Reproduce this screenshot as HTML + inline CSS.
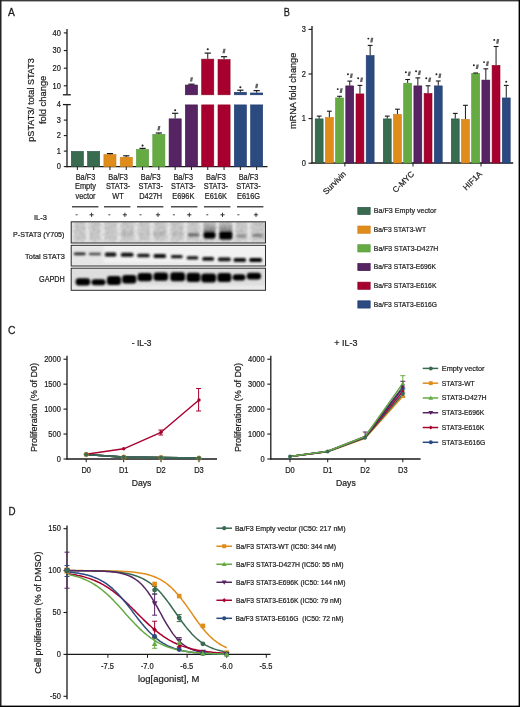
<!DOCTYPE html>
<html><head><meta charset="utf-8"><style>html,body{margin:0;padding:0;background:#fff;width:520px;height:707px;overflow:hidden;}#w{width:520px;height:707px;background:#fff;will-change:transform;}svg{display:block;}</style></head>
<body><div id="w"><svg width="520" height="707" viewBox="0 0 520 707" font-family='"Liberation Sans", sans-serif'><text transform="translate(8.00 15.85) scale(0.89 1)" font-size="11.5" text-anchor="start" fill="#1c1c1c" stroke="#1c1c1c" stroke-width="0.3">A</text>
<text transform="translate(283.70 16.40) scale(0.8 1)" font-size="11.5" text-anchor="start" fill="#1c1c1c" stroke="#1c1c1c" stroke-width="0.3">B</text>
<text transform="translate(7.90 333.80) scale(0.9 1)" font-size="11.5" text-anchor="start" fill="#1c1c1c" stroke="#1c1c1c" stroke-width="0.3">C</text>
<text transform="translate(8.40 514.50) scale(0.85 1)" font-size="11.5" text-anchor="start" fill="#1c1c1c" stroke="#1c1c1c" stroke-width="0.3">D</text>
<line x1="67.00" y1="29.00" x2="67.00" y2="94.80" stroke="#1a1a1a" stroke-width="1.3"/>
<line x1="67.00" y1="104.60" x2="67.00" y2="167.30" stroke="#1a1a1a" stroke-width="1.3"/>
<line x1="62.90" y1="94.80" x2="70.80" y2="94.80" stroke="#1a1a1a" stroke-width="1.3"/>
<line x1="62.90" y1="104.60" x2="70.80" y2="104.60" stroke="#1a1a1a" stroke-width="1.3"/>
<line x1="66.40" y1="166.70" x2="267.50" y2="166.70" stroke="#1a1a1a" stroke-width="1.3"/>
<line x1="63.80" y1="85.80" x2="67.00" y2="85.80" stroke="#1a1a1a" stroke-width="1.1"/>
<text transform="translate(60.90 88.55) scale(0.88 1)" font-size="8.5" text-anchor="end" fill="#1c1c1c" stroke="#1c1c1c" stroke-width="0.22">10</text>
<line x1="63.80" y1="68.17" x2="67.00" y2="68.17" stroke="#1a1a1a" stroke-width="1.1"/>
<text transform="translate(60.90 70.92) scale(0.88 1)" font-size="8.5" text-anchor="end" fill="#1c1c1c" stroke="#1c1c1c" stroke-width="0.22">20</text>
<line x1="63.80" y1="50.54" x2="67.00" y2="50.54" stroke="#1a1a1a" stroke-width="1.1"/>
<text transform="translate(60.90 53.29) scale(0.88 1)" font-size="8.5" text-anchor="end" fill="#1c1c1c" stroke="#1c1c1c" stroke-width="0.22">30</text>
<line x1="63.80" y1="32.91" x2="67.00" y2="32.91" stroke="#1a1a1a" stroke-width="1.1"/>
<text transform="translate(60.90 35.66) scale(0.88 1)" font-size="8.5" text-anchor="end" fill="#1c1c1c" stroke="#1c1c1c" stroke-width="0.22">40</text>
<line x1="63.80" y1="166.60" x2="67.00" y2="166.60" stroke="#1a1a1a" stroke-width="1.1"/>
<text transform="translate(60.90 169.35) scale(0.88 1)" font-size="8.5" text-anchor="end" fill="#1c1c1c" stroke="#1c1c1c" stroke-width="0.22">0</text>
<line x1="63.80" y1="151.10" x2="67.00" y2="151.10" stroke="#1a1a1a" stroke-width="1.1"/>
<text transform="translate(60.90 153.85) scale(0.88 1)" font-size="8.5" text-anchor="end" fill="#1c1c1c" stroke="#1c1c1c" stroke-width="0.22">1</text>
<line x1="63.80" y1="135.60" x2="67.00" y2="135.60" stroke="#1a1a1a" stroke-width="1.1"/>
<text transform="translate(60.90 138.35) scale(0.88 1)" font-size="8.5" text-anchor="end" fill="#1c1c1c" stroke="#1c1c1c" stroke-width="0.22">2</text>
<line x1="63.80" y1="120.10" x2="67.00" y2="120.10" stroke="#1a1a1a" stroke-width="1.1"/>
<text transform="translate(60.90 122.85) scale(0.88 1)" font-size="8.5" text-anchor="end" fill="#1c1c1c" stroke="#1c1c1c" stroke-width="0.22">3</text>
<text transform="translate(60.90 107.35) scale(0.88 1)" font-size="8.5" text-anchor="end" fill="#1c1c1c" stroke="#1c1c1c" stroke-width="0.22">4</text>
<rect x="71.30" y="151.40" width="12.10" height="15.30" fill="#386b50" stroke="#27523c" stroke-width="0.6"/>
<line x1="77.35" y1="166.70" x2="77.35" y2="170.00" stroke="#1a1a1a" stroke-width="1.0"/>
<rect x="87.60" y="151.40" width="12.10" height="15.30" fill="#386b50" stroke="#27523c" stroke-width="0.6"/>
<line x1="93.65" y1="166.70" x2="93.65" y2="170.00" stroke="#1a1a1a" stroke-width="1.0"/>
<rect x="103.90" y="154.66" width="12.10" height="12.04" fill="#e08c1a" stroke="#cc7d12" stroke-width="0.6"/>
<line x1="109.95" y1="153.60" x2="109.95" y2="154.35" stroke="#1a1a1a" stroke-width="1.0"/>
<line x1="106.85" y1="153.60" x2="113.05" y2="153.60" stroke="#1a1a1a" stroke-width="1.2"/>
<line x1="109.95" y1="166.70" x2="109.95" y2="170.00" stroke="#1a1a1a" stroke-width="1.0"/>
<rect x="120.20" y="157.29" width="12.10" height="9.41" fill="#e08c1a" stroke="#cc7d12" stroke-width="0.6"/>
<line x1="126.25" y1="155.80" x2="126.25" y2="156.99" stroke="#1a1a1a" stroke-width="1.0"/>
<line x1="123.15" y1="155.80" x2="129.35" y2="155.80" stroke="#1a1a1a" stroke-width="1.2"/>
<line x1="126.25" y1="166.70" x2="126.25" y2="170.00" stroke="#1a1a1a" stroke-width="1.0"/>
<rect x="136.50" y="149.54" width="12.10" height="17.16" fill="#66aa44" stroke="#529636" stroke-width="0.6"/>
<line x1="142.55" y1="148.40" x2="142.55" y2="149.24" stroke="#1a1a1a" stroke-width="1.0"/>
<line x1="139.45" y1="148.40" x2="145.65" y2="148.40" stroke="#1a1a1a" stroke-width="1.2"/>
<line x1="142.55" y1="166.70" x2="142.55" y2="170.00" stroke="#1a1a1a" stroke-width="1.0"/>
<rect x="152.80" y="134.35" width="12.10" height="32.35" fill="#66aa44" stroke="#529636" stroke-width="0.6"/>
<line x1="158.85" y1="133.00" x2="158.85" y2="134.05" stroke="#1a1a1a" stroke-width="1.0"/>
<line x1="155.75" y1="133.00" x2="161.95" y2="133.00" stroke="#1a1a1a" stroke-width="1.2"/>
<line x1="158.85" y1="166.70" x2="158.85" y2="170.00" stroke="#1a1a1a" stroke-width="1.0"/>
<rect x="169.10" y="118.85" width="12.10" height="47.85" fill="#562462" stroke="#3e1249" stroke-width="0.6"/>
<line x1="175.15" y1="113.30" x2="175.15" y2="118.55" stroke="#1a1a1a" stroke-width="1.0"/>
<line x1="172.05" y1="113.30" x2="178.25" y2="113.30" stroke="#1a1a1a" stroke-width="1.2"/>
<line x1="175.15" y1="166.70" x2="175.15" y2="170.00" stroke="#1a1a1a" stroke-width="1.0"/>
<rect x="185.40" y="104.90" width="12.10" height="61.80" fill="#562462" stroke="#3e1249" stroke-width="0.6"/>
<rect x="185.40" y="85.04" width="12.10" height="9.76" fill="#562462" stroke="#3e1249" stroke-width="0.6"/>
<line x1="191.45" y1="84.20" x2="191.45" y2="84.74" stroke="#1a1a1a" stroke-width="1.0"/>
<line x1="188.35" y1="84.20" x2="194.55" y2="84.20" stroke="#1a1a1a" stroke-width="1.2"/>
<line x1="191.45" y1="166.70" x2="191.45" y2="170.00" stroke="#1a1a1a" stroke-width="1.0"/>
<rect x="201.70" y="104.90" width="12.10" height="61.80" fill="#a8002e" stroke="#8e0026" stroke-width="0.6"/>
<rect x="201.70" y="59.13" width="12.10" height="35.67" fill="#a8002e" stroke="#8e0026" stroke-width="0.6"/>
<line x1="207.75" y1="53.10" x2="207.75" y2="58.83" stroke="#1a1a1a" stroke-width="1.0"/>
<line x1="204.65" y1="53.10" x2="210.85" y2="53.10" stroke="#1a1a1a" stroke-width="1.2"/>
<line x1="207.75" y1="166.70" x2="207.75" y2="170.00" stroke="#1a1a1a" stroke-width="1.0"/>
<rect x="218.00" y="104.90" width="12.10" height="61.80" fill="#a8002e" stroke="#8e0026" stroke-width="0.6"/>
<rect x="218.00" y="59.55" width="12.10" height="35.25" fill="#a8002e" stroke="#8e0026" stroke-width="0.6"/>
<line x1="224.05" y1="56.70" x2="224.05" y2="59.25" stroke="#1a1a1a" stroke-width="1.0"/>
<line x1="220.95" y1="56.70" x2="227.15" y2="56.70" stroke="#1a1a1a" stroke-width="1.2"/>
<line x1="224.05" y1="166.70" x2="224.05" y2="170.00" stroke="#1a1a1a" stroke-width="1.0"/>
<rect x="234.30" y="104.90" width="12.10" height="61.80" fill="#2a4a80" stroke="#1e3a6c" stroke-width="0.6"/>
<rect x="234.30" y="92.27" width="12.10" height="2.53" fill="#2a4a80" stroke="#1e3a6c" stroke-width="0.6"/>
<line x1="240.35" y1="90.20" x2="240.35" y2="91.97" stroke="#1a1a1a" stroke-width="1.0"/>
<line x1="237.25" y1="90.20" x2="243.45" y2="90.20" stroke="#1a1a1a" stroke-width="1.2"/>
<line x1="240.35" y1="166.70" x2="240.35" y2="170.00" stroke="#1a1a1a" stroke-width="1.0"/>
<rect x="250.60" y="104.90" width="12.10" height="61.80" fill="#2a4a80" stroke="#1e3a6c" stroke-width="0.6"/>
<rect x="250.60" y="92.98" width="12.10" height="1.82" fill="#2a4a80" stroke="#1e3a6c" stroke-width="0.6"/>
<line x1="256.65" y1="90.60" x2="256.65" y2="92.68" stroke="#1a1a1a" stroke-width="1.0"/>
<line x1="253.55" y1="90.60" x2="259.75" y2="90.60" stroke="#1a1a1a" stroke-width="1.2"/>
<line x1="256.65" y1="166.70" x2="256.65" y2="170.00" stroke="#1a1a1a" stroke-width="1.0"/>
<circle cx="142.55" cy="145.60" r="1.05" fill="#1e1e1e"/>
<polygon points="158.15,126.10 160.45,126.10 159.55,130.50 157.25,130.50" fill="#3c3c3c" opacity="0.8" filter="url(#bl0)"/>
<circle cx="175.15" cy="110.30" r="1.05" fill="#1e1e1e"/>
<polygon points="190.75,77.20 193.05,77.20 192.15,81.60 189.85,81.60" fill="#3c3c3c" opacity="0.8" filter="url(#bl0)"/>
<circle cx="207.75" cy="49.20" r="1.05" fill="#1e1e1e"/>
<polygon points="223.35,48.80 225.65,48.80 224.75,53.20 222.45,53.20" fill="#3c3c3c" opacity="0.8" filter="url(#bl0)"/>
<circle cx="240.35" cy="87.20" r="1.05" fill="#1e1e1e"/>
<polygon points="255.95,83.80 258.25,83.80 257.35,88.20 255.05,88.20" fill="#3c3c3c" opacity="0.8" filter="url(#bl0)"/>
<text transform="translate(85.50 179.90) scale(0.86 1)" font-size="8.6" text-anchor="middle" fill="#1c1c1c" stroke="#1c1c1c" stroke-width="0.22">Ba/F3</text>
<text transform="translate(85.50 189.45) scale(0.86 1)" font-size="8.6" text-anchor="middle" fill="#1c1c1c" stroke="#1c1c1c" stroke-width="0.22">Empty</text>
<text transform="translate(85.50 199.00) scale(0.86 1)" font-size="8.6" text-anchor="middle" fill="#1c1c1c" stroke="#1c1c1c" stroke-width="0.22">vector</text>
<text transform="translate(118.10 179.90) scale(0.86 1)" font-size="8.6" text-anchor="middle" fill="#1c1c1c" stroke="#1c1c1c" stroke-width="0.22">Ba/F3</text>
<text transform="translate(118.10 189.45) scale(0.86 1)" font-size="8.6" text-anchor="middle" fill="#1c1c1c" stroke="#1c1c1c" stroke-width="0.22">STAT3-</text>
<text transform="translate(118.10 199.00) scale(0.86 1)" font-size="8.6" text-anchor="middle" fill="#1c1c1c" stroke="#1c1c1c" stroke-width="0.22">WT</text>
<text transform="translate(150.70 179.90) scale(0.86 1)" font-size="8.6" text-anchor="middle" fill="#1c1c1c" stroke="#1c1c1c" stroke-width="0.22">Ba/F3</text>
<text transform="translate(150.70 189.45) scale(0.86 1)" font-size="8.6" text-anchor="middle" fill="#1c1c1c" stroke="#1c1c1c" stroke-width="0.22">STAT3-</text>
<text transform="translate(150.70 199.00) scale(0.86 1)" font-size="8.6" text-anchor="middle" fill="#1c1c1c" stroke="#1c1c1c" stroke-width="0.22">D427H</text>
<text transform="translate(183.30 179.90) scale(0.86 1)" font-size="8.6" text-anchor="middle" fill="#1c1c1c" stroke="#1c1c1c" stroke-width="0.22">Ba/F3</text>
<text transform="translate(183.30 189.45) scale(0.86 1)" font-size="8.6" text-anchor="middle" fill="#1c1c1c" stroke="#1c1c1c" stroke-width="0.22">STAT3-</text>
<text transform="translate(183.30 199.00) scale(0.86 1)" font-size="8.6" text-anchor="middle" fill="#1c1c1c" stroke="#1c1c1c" stroke-width="0.22">E696K</text>
<text transform="translate(215.90 179.90) scale(0.86 1)" font-size="8.6" text-anchor="middle" fill="#1c1c1c" stroke="#1c1c1c" stroke-width="0.22">Ba/F3</text>
<text transform="translate(215.90 189.45) scale(0.86 1)" font-size="8.6" text-anchor="middle" fill="#1c1c1c" stroke="#1c1c1c" stroke-width="0.22">STAT3-</text>
<text transform="translate(215.90 199.00) scale(0.86 1)" font-size="8.6" text-anchor="middle" fill="#1c1c1c" stroke="#1c1c1c" stroke-width="0.22">E616K</text>
<text transform="translate(248.50 179.90) scale(0.86 1)" font-size="8.6" text-anchor="middle" fill="#1c1c1c" stroke="#1c1c1c" stroke-width="0.22">Ba/F3</text>
<text transform="translate(248.50 189.45) scale(0.86 1)" font-size="8.6" text-anchor="middle" fill="#1c1c1c" stroke="#1c1c1c" stroke-width="0.22">STAT3-</text>
<text transform="translate(248.50 199.00) scale(0.86 1)" font-size="8.6" text-anchor="middle" fill="#1c1c1c" stroke="#1c1c1c" stroke-width="0.22">E616G</text>
<text transform="translate(33.90 99.95) rotate(-90)" font-size="9.6" text-anchor="middle" fill="#1c1c1c" stroke="#1c1c1c" stroke-width="0.22" textLength="83.5" lengthAdjust="spacingAndGlyphs">pSTAT3/ total STAT3</text>
<text transform="translate(46.00 99.90) rotate(-90)" font-size="9.6" text-anchor="middle" fill="#1c1c1c" stroke="#1c1c1c" stroke-width="0.22" textLength="48.4" lengthAdjust="spacingAndGlyphs">fold change</text>
<text transform="translate(46.90 219.80) scale(0.95 1)" font-size="7.9" text-anchor="end" fill="#1c1c1c" stroke="#1c1c1c" stroke-width="0.22">IL-3</text>
<text transform="translate(64.40 237.10)" font-size="7.9" text-anchor="end" fill="#1c1c1c" stroke="#1c1c1c" stroke-width="0.22" textLength="51.3" lengthAdjust="spacingAndGlyphs">P-STAT3 (Y705)</text>
<text transform="translate(64.80 258.60)" font-size="8.1" text-anchor="end" fill="#1c1c1c" stroke="#1c1c1c" stroke-width="0.22" textLength="39.7" lengthAdjust="spacingAndGlyphs">Total STAT3</text>
<text transform="translate(64.80 281.70)" font-size="8.2" text-anchor="end" fill="#1c1c1c" stroke="#1c1c1c" stroke-width="0.22" textLength="25.8" lengthAdjust="spacingAndGlyphs">GAPDH</text>
<line x1="72.00" y1="206.80" x2="98.40" y2="206.80" stroke="#222" stroke-width="1.2"/>
<line x1="104.00" y1="206.80" x2="130.40" y2="206.80" stroke="#222" stroke-width="1.2"/>
<line x1="137.00" y1="206.80" x2="163.40" y2="206.80" stroke="#222" stroke-width="1.2"/>
<line x1="171.00" y1="206.80" x2="197.40" y2="206.80" stroke="#222" stroke-width="1.2"/>
<line x1="204.00" y1="206.80" x2="230.40" y2="206.80" stroke="#222" stroke-width="1.2"/>
<line x1="237.00" y1="206.80" x2="263.40" y2="206.80" stroke="#222" stroke-width="1.2"/>
<line x1="75.60" y1="214.80" x2="77.60" y2="214.80" stroke="#333" stroke-width="0.9"/>
<line x1="108.40" y1="214.80" x2="110.40" y2="214.80" stroke="#333" stroke-width="0.9"/>
<line x1="139.50" y1="214.80" x2="141.50" y2="214.80" stroke="#333" stroke-width="0.9"/>
<line x1="172.90" y1="214.80" x2="174.90" y2="214.80" stroke="#333" stroke-width="0.9"/>
<line x1="206.30" y1="214.80" x2="208.30" y2="214.80" stroke="#333" stroke-width="0.9"/>
<line x1="237.40" y1="214.80" x2="239.40" y2="214.80" stroke="#333" stroke-width="0.9"/>
<line x1="89.50" y1="214.80" x2="93.70" y2="214.80" stroke="#333" stroke-width="1.0"/>
<line x1="91.60" y1="212.70" x2="91.60" y2="216.90" stroke="#333" stroke-width="1.0"/>
<line x1="122.80" y1="214.80" x2="127.00" y2="214.80" stroke="#333" stroke-width="1.0"/>
<line x1="124.90" y1="212.70" x2="124.90" y2="216.90" stroke="#333" stroke-width="1.0"/>
<line x1="155.90" y1="214.80" x2="160.10" y2="214.80" stroke="#333" stroke-width="1.0"/>
<line x1="158.00" y1="212.70" x2="158.00" y2="216.90" stroke="#333" stroke-width="1.0"/>
<line x1="187.20" y1="214.80" x2="191.40" y2="214.80" stroke="#333" stroke-width="1.0"/>
<line x1="189.30" y1="212.70" x2="189.30" y2="216.90" stroke="#333" stroke-width="1.0"/>
<line x1="220.40" y1="214.80" x2="224.60" y2="214.80" stroke="#333" stroke-width="1.0"/>
<line x1="222.50" y1="212.70" x2="222.50" y2="216.90" stroke="#333" stroke-width="1.0"/>
<line x1="253.90" y1="214.80" x2="258.10" y2="214.80" stroke="#333" stroke-width="1.0"/>
<line x1="256.00" y1="212.70" x2="256.00" y2="216.90" stroke="#333" stroke-width="1.0"/>
<defs><filter id="bl0" x="-50%" y="-50%" width="200%" height="200%"><feGaussianBlur stdDeviation="0.35"/></filter><filter id="bl1" x="-20%" y="-50%" width="140%" height="200%"><feGaussianBlur stdDeviation="0.8"/></filter><filter id="bl2" x="-20%" y="-50%" width="140%" height="200%"><feGaussianBlur stdDeviation="1.4"/></filter><filter id="nz" x="0" y="0" width="100%" height="100%"><feTurbulence type="fractalNoise" baseFrequency="0.3" numOctaves="2" seed="3"/><feColorMatrix type="matrix" values="0 0 0 0 0  0 0 0 0 0  0 0 0 0 0  0 0 0 -0.9 0.55"/></filter><clipPath id="cb1"><rect x="71.2" y="221.8" width="194.3" height="21.2"/></clipPath><clipPath id="cb2"><rect x="71.2" y="245.3" width="194.3" height="20.7"/></clipPath><clipPath id="cb3"><rect x="71.2" y="268.2" width="194.3" height="22.1"/></clipPath></defs>
<g clip-path="url(#cb1)">
<rect x="71.20" y="221.80" width="194.30" height="21.20" fill="#c9c9c9"/>
<g filter="url(#bl1)">
<rect x="69.80" y="221.00" width="4.40" height="23.00" fill="#e4e4e4"/>
<rect x="85.30" y="221.00" width="4.40" height="23.00" fill="#e4e4e4"/>
<rect x="100.30" y="221.00" width="4.40" height="23.00" fill="#e4e4e4"/>
<rect x="116.80" y="221.00" width="4.40" height="23.00" fill="#e4e4e4"/>
<rect x="134.30" y="221.00" width="4.40" height="23.00" fill="#e4e4e4"/>
<rect x="149.80" y="221.00" width="4.40" height="23.00" fill="#e4e4e4"/>
<rect x="166.50" y="221.00" width="4.40" height="23.00" fill="#e4e4e4"/>
<rect x="183.40" y="221.00" width="4.40" height="23.00" fill="#e4e4e4"/>
<rect x="199.10" y="221.00" width="4.40" height="23.00" fill="#e4e4e4"/>
<rect x="215.20" y="221.00" width="4.40" height="23.00" fill="#e4e4e4"/>
<rect x="231.40" y="221.00" width="4.40" height="23.00" fill="#e4e4e4"/>
<rect x="247.10" y="221.00" width="4.40" height="23.00" fill="#e4e4e4"/>
<rect x="71.20" y="240.50" width="194.30" height="3.00" fill="#dedede"/>
</g><g filter="url(#bl1)">
<linearGradient id="sm" x1="0" y1="0" x2="0" y2="1"><stop offset="0" stop-color="#c4c4c4"/><stop offset="1" stop-color="#7a7a7a"/></linearGradient>
<rect x="204" y="222" width="11.5" height="11" rx="3" fill="url(#sm)"/><rect x="219.5" y="222" width="12.5" height="11" rx="3" fill="url(#sm)"/>
<rect x="120.5" y="231.5" width="12.5" height="4.5" rx="2" fill="#bcbcbc"/>
<rect x="153.0" y="231.5" width="12.5" height="4.5" rx="2" fill="#b8b8b8"/>
<rect x="137.0" y="232.0" width="12.0" height="3.5" rx="2" fill="#c8c8c8"/>
<rect x="171.9" y="231.8" width="10.8" height="3.8" rx="2" fill="#bdbdbd"/>
<rect x="187.6" y="233.2" width="11.7" height="3.4" rx="2" fill="#6e6e6e"/>
<rect x="203.6" y="231.4" width="11.8" height="7.0" rx="2" fill="#060606"/>
<rect x="219.3" y="231.0" width="13.0" height="8.6" rx="2" fill="#060606"/>
<rect x="236.2" y="234.6" width="10.2" height="2.9" rx="2" fill="#8e8e8e"/>
<rect x="252.3" y="233.9" width="10.7" height="2.9" rx="2" fill="#7c7c7c"/>
</g>
<rect x="71.2" y="221.8" width="194.3" height="21.2" filter="url(#nz)" opacity="0.16"/>
</g>
<g clip-path="url(#cb2)">
<rect x="71.20" y="245.30" width="194.30" height="20.70" fill="#f2f2f2"/>
<g filter="url(#bl2)">
<rect x="71.20" y="245.30" width="32.50" height="20.70" fill="#e6e6e6"/>
<rect x="71.20" y="263.00" width="194.30" height="3.00" fill="#e4e4e4"/>
</g><g filter="url(#bl1)">
<rect x="73.8" y="252.4" width="11.9" height="2.8" rx="1.5" fill="#262626"/>
<rect x="88.8" y="252.7" width="12.2" height="2.5" rx="1.5" fill="#444444"/>
<rect x="104.9" y="252.4" width="11.4" height="4.2" rx="1.5" fill="#080808"/>
<rect x="120.9" y="252.8" width="12.5" height="4.0" rx="1.5" fill="#0c0c0c"/>
<rect x="137.2" y="253.8" width="12.5" height="3.5" rx="1.5" fill="#141414"/>
<rect x="153.6" y="254.0" width="12.4" height="3.9" rx="1.5" fill="#0a0a0a"/>
<rect x="170.9" y="255.1" width="11.8" height="3.1" rx="1.5" fill="#151515"/>
<rect x="186.6" y="256.2" width="11.8" height="3.2" rx="1.5" fill="#121212"/>
<rect x="202.3" y="257.0" width="11.7" height="3.7" rx="1.5" fill="#0a0a0a"/>
<rect x="218.0" y="257.4" width="12.7" height="3.9" rx="1.5" fill="#080808"/>
<rect x="233.6" y="258.0" width="12.4" height="3.9" rx="1.5" fill="#080808"/>
<rect x="249.3" y="257.9" width="12.7" height="4.1" rx="1.5" fill="#050505"/>
</g></g>
<g clip-path="url(#cb3)">
<rect x="71.20" y="268.20" width="194.30" height="22.10" fill="#dedede"/>
<g filter="url(#bl2)">
<rect x="71.20" y="285.50" width="194.30" height="5.00" fill="#ececec"/>
</g><g filter="url(#bl1)">
<rect x="75.7" y="278.3" width="14.4" height="7.2" rx="3" fill="#030303"/>
<rect x="91.5" y="279.3" width="14.0" height="6.0" rx="3" fill="#030303"/>
<rect x="107.0" y="276.0" width="13.9" height="9.0" rx="3" fill="#030303"/>
<rect x="122.2" y="275.0" width="14.1" height="8.5" rx="3" fill="#030303"/>
<rect x="137.6" y="273.0" width="14.4" height="8.2" rx="3" fill="#030303"/>
<rect x="153.6" y="272.6" width="14.4" height="8.2" rx="3" fill="#030303"/>
<rect x="170.3" y="272.2" width="14.7" height="9.0" rx="3" fill="#030303"/>
<rect x="186.6" y="272.8" width="13.7" height="9.2" rx="3" fill="#030303"/>
<rect x="201.3" y="273.4" width="14.7" height="9.2" rx="3" fill="#030303"/>
<rect x="217.4" y="273.0" width="13.9" height="9.0" rx="3" fill="#030303"/>
<rect x="232.7" y="274.2" width="12.7" height="6.4" rx="3" fill="#030303"/>
<rect x="246.8" y="272.8" width="14.2" height="6.8" rx="3" fill="#030303"/>
</g></g>
<rect x="71.2" y="221.8" width="194.3" height="21.2" fill="none" stroke="#2a2a2a" stroke-width="1"/>
<rect x="71.2" y="245.3" width="194.3" height="20.7" fill="none" stroke="#2a2a2a" stroke-width="1"/>
<rect x="71.2" y="268.2" width="194.3" height="22.1" fill="none" stroke="#2a2a2a" stroke-width="1"/>
<line x1="312.00" y1="26.00" x2="312.00" y2="163.60" stroke="#1a1a1a" stroke-width="1.3"/>
<line x1="311.40" y1="163.00" x2="513.20" y2="163.00" stroke="#1a1a1a" stroke-width="1.3"/>
<line x1="308.50" y1="163.20" x2="312.00" y2="163.20" stroke="#1a1a1a" stroke-width="1.1"/>
<text transform="translate(306.00 165.95) scale(0.88 1)" font-size="8.5" text-anchor="end" fill="#1c1c1c" stroke="#1c1c1c" stroke-width="0.22">0</text>
<line x1="308.50" y1="118.60" x2="312.00" y2="118.60" stroke="#1a1a1a" stroke-width="1.1"/>
<text transform="translate(306.00 121.35) scale(0.88 1)" font-size="8.5" text-anchor="end" fill="#1c1c1c" stroke="#1c1c1c" stroke-width="0.22">1</text>
<line x1="308.50" y1="74.00" x2="312.00" y2="74.00" stroke="#1a1a1a" stroke-width="1.1"/>
<text transform="translate(306.00 76.75) scale(0.88 1)" font-size="8.5" text-anchor="end" fill="#1c1c1c" stroke="#1c1c1c" stroke-width="0.22">2</text>
<line x1="308.50" y1="29.40" x2="312.00" y2="29.40" stroke="#1a1a1a" stroke-width="1.1"/>
<text transform="translate(306.00 32.15) scale(0.88 1)" font-size="8.5" text-anchor="end" fill="#1c1c1c" stroke="#1c1c1c" stroke-width="0.22">3</text>
<rect x="315.20" y="118.90" width="7.90" height="44.10" fill="#386b50" stroke="#27523c" stroke-width="0.6"/>
<line x1="319.15" y1="116.10" x2="319.15" y2="118.60" stroke="#1a1a1a" stroke-width="1.0"/>
<line x1="316.75" y1="116.10" x2="321.55" y2="116.10" stroke="#1a1a1a" stroke-width="1.1"/>
<rect x="325.40" y="117.56" width="7.90" height="45.44" fill="#e08c1a" stroke="#cc7d12" stroke-width="0.6"/>
<line x1="329.35" y1="111.20" x2="329.35" y2="117.26" stroke="#1a1a1a" stroke-width="1.0"/>
<line x1="326.95" y1="111.20" x2="331.75" y2="111.20" stroke="#1a1a1a" stroke-width="1.1"/>
<rect x="335.60" y="97.94" width="7.90" height="65.06" fill="#66aa44" stroke="#529636" stroke-width="0.6"/>
<line x1="339.55" y1="96.30" x2="339.55" y2="97.64" stroke="#1a1a1a" stroke-width="1.0"/>
<line x1="337.15" y1="96.30" x2="341.95" y2="96.30" stroke="#1a1a1a" stroke-width="1.1"/>
<circle cx="337.75" cy="89.10" r="0.97" fill="#1e1e1e"/>
<polygon points="340.45,88.30 342.75,88.30 341.85,92.90 339.55,92.90" fill="#3c3c3c" opacity="0.8" filter="url(#bl0)"/>
<rect x="345.80" y="85.90" width="7.90" height="77.10" fill="#562462" stroke="#3e1249" stroke-width="0.6"/>
<line x1="349.75" y1="81.10" x2="349.75" y2="85.60" stroke="#1a1a1a" stroke-width="1.0"/>
<line x1="347.35" y1="81.10" x2="352.15" y2="81.10" stroke="#1a1a1a" stroke-width="1.1"/>
<circle cx="347.95" cy="74.30" r="0.97" fill="#1e1e1e"/>
<polygon points="350.65,73.50 352.95,73.50 352.05,78.10 349.75,78.10" fill="#3c3c3c" opacity="0.8" filter="url(#bl0)"/>
<rect x="356.00" y="93.92" width="7.90" height="69.08" fill="#a8002e" stroke="#8e0026" stroke-width="0.6"/>
<line x1="359.95" y1="85.40" x2="359.95" y2="93.62" stroke="#1a1a1a" stroke-width="1.0"/>
<line x1="357.55" y1="85.40" x2="362.35" y2="85.40" stroke="#1a1a1a" stroke-width="1.1"/>
<circle cx="358.15" cy="78.20" r="0.97" fill="#1e1e1e"/>
<polygon points="360.85,77.40 363.15,77.40 362.25,82.00 359.95,82.00" fill="#3c3c3c" opacity="0.8" filter="url(#bl0)"/>
<rect x="366.20" y="55.57" width="7.90" height="107.43" fill="#2a4a80" stroke="#1e3a6c" stroke-width="0.6"/>
<line x1="370.15" y1="45.40" x2="370.15" y2="55.27" stroke="#1a1a1a" stroke-width="1.0"/>
<line x1="367.75" y1="45.40" x2="372.55" y2="45.40" stroke="#1a1a1a" stroke-width="1.1"/>
<circle cx="368.35" cy="38.60" r="0.97" fill="#1e1e1e"/>
<polygon points="371.05,37.80 373.35,37.80 372.45,42.40 370.15,42.40" fill="#3c3c3c" opacity="0.8" filter="url(#bl0)"/>
<line x1="344.90" y1="163.00" x2="344.90" y2="166.50" stroke="#1a1a1a" stroke-width="1.0"/>
<rect x="383.30" y="118.90" width="7.90" height="44.10" fill="#386b50" stroke="#27523c" stroke-width="0.6"/>
<line x1="387.25" y1="116.10" x2="387.25" y2="118.60" stroke="#1a1a1a" stroke-width="1.0"/>
<line x1="384.85" y1="116.10" x2="389.65" y2="116.10" stroke="#1a1a1a" stroke-width="1.1"/>
<rect x="393.50" y="114.44" width="7.90" height="48.56" fill="#e08c1a" stroke="#cc7d12" stroke-width="0.6"/>
<line x1="397.45" y1="109.20" x2="397.45" y2="114.14" stroke="#1a1a1a" stroke-width="1.0"/>
<line x1="395.05" y1="109.20" x2="399.85" y2="109.20" stroke="#1a1a1a" stroke-width="1.1"/>
<rect x="403.70" y="83.22" width="7.90" height="79.78" fill="#66aa44" stroke="#529636" stroke-width="0.6"/>
<line x1="407.65" y1="79.50" x2="407.65" y2="82.92" stroke="#1a1a1a" stroke-width="1.0"/>
<line x1="405.25" y1="79.50" x2="410.05" y2="79.50" stroke="#1a1a1a" stroke-width="1.1"/>
<circle cx="405.85" cy="72.30" r="0.97" fill="#1e1e1e"/>
<polygon points="408.55,71.50 410.85,71.50 409.95,76.10 407.65,76.10" fill="#3c3c3c" opacity="0.8" filter="url(#bl0)"/>
<rect x="413.90" y="85.90" width="7.90" height="77.10" fill="#562462" stroke="#3e1249" stroke-width="0.6"/>
<line x1="417.85" y1="77.90" x2="417.85" y2="85.60" stroke="#1a1a1a" stroke-width="1.0"/>
<line x1="415.45" y1="77.90" x2="420.25" y2="77.90" stroke="#1a1a1a" stroke-width="1.1"/>
<circle cx="416.05" cy="71.30" r="0.97" fill="#1e1e1e"/>
<polygon points="418.75,70.50 421.05,70.50 420.15,75.10 417.85,75.10" fill="#3c3c3c" opacity="0.8" filter="url(#bl0)"/>
<rect x="424.10" y="93.48" width="7.90" height="69.52" fill="#a8002e" stroke="#8e0026" stroke-width="0.6"/>
<line x1="428.05" y1="85.80" x2="428.05" y2="93.18" stroke="#1a1a1a" stroke-width="1.0"/>
<line x1="425.65" y1="85.80" x2="430.45" y2="85.80" stroke="#1a1a1a" stroke-width="1.1"/>
<circle cx="426.25" cy="78.20" r="0.97" fill="#1e1e1e"/>
<polygon points="428.95,77.40 431.25,77.40 430.35,82.00 428.05,82.00" fill="#3c3c3c" opacity="0.8" filter="url(#bl0)"/>
<rect x="434.30" y="85.90" width="7.90" height="77.10" fill="#2a4a80" stroke="#1e3a6c" stroke-width="0.6"/>
<line x1="438.25" y1="81.00" x2="438.25" y2="85.60" stroke="#1a1a1a" stroke-width="1.0"/>
<line x1="435.85" y1="81.00" x2="440.65" y2="81.00" stroke="#1a1a1a" stroke-width="1.1"/>
<circle cx="436.45" cy="74.30" r="0.97" fill="#1e1e1e"/>
<polygon points="439.15,73.50 441.45,73.50 440.55,78.10 438.25,78.10" fill="#3c3c3c" opacity="0.8" filter="url(#bl0)"/>
<line x1="413.00" y1="163.00" x2="413.00" y2="166.50" stroke="#1a1a1a" stroke-width="1.0"/>
<rect x="451.30" y="118.90" width="7.90" height="44.10" fill="#386b50" stroke="#27523c" stroke-width="0.6"/>
<line x1="455.25" y1="113.40" x2="455.25" y2="118.60" stroke="#1a1a1a" stroke-width="1.0"/>
<line x1="452.85" y1="113.40" x2="457.65" y2="113.40" stroke="#1a1a1a" stroke-width="1.1"/>
<rect x="461.50" y="119.35" width="7.90" height="43.65" fill="#e08c1a" stroke="#cc7d12" stroke-width="0.6"/>
<line x1="465.45" y1="105.30" x2="465.45" y2="119.05" stroke="#1a1a1a" stroke-width="1.0"/>
<line x1="463.05" y1="105.30" x2="467.85" y2="105.30" stroke="#1a1a1a" stroke-width="1.1"/>
<rect x="471.70" y="73.41" width="7.90" height="89.59" fill="#66aa44" stroke="#529636" stroke-width="0.6"/>
<line x1="475.65" y1="73.00" x2="475.65" y2="73.11" stroke="#1a1a1a" stroke-width="1.0"/>
<line x1="473.25" y1="73.00" x2="478.05" y2="73.00" stroke="#1a1a1a" stroke-width="1.1"/>
<circle cx="473.85" cy="65.30" r="0.97" fill="#1e1e1e"/>
<polygon points="476.55,64.50 478.85,64.50 477.95,69.10 475.65,69.10" fill="#3c3c3c" opacity="0.8" filter="url(#bl0)"/>
<rect x="481.90" y="80.10" width="7.90" height="82.90" fill="#562462" stroke="#3e1249" stroke-width="0.6"/>
<line x1="485.85" y1="68.80" x2="485.85" y2="79.80" stroke="#1a1a1a" stroke-width="1.0"/>
<line x1="483.45" y1="68.80" x2="488.25" y2="68.80" stroke="#1a1a1a" stroke-width="1.1"/>
<circle cx="484.05" cy="62.10" r="0.97" fill="#1e1e1e"/>
<polygon points="486.75,61.30 489.05,61.30 488.15,65.90 485.85,65.90" fill="#3c3c3c" opacity="0.8" filter="url(#bl0)"/>
<rect x="492.10" y="65.38" width="7.90" height="97.62" fill="#a8002e" stroke="#8e0026" stroke-width="0.6"/>
<line x1="496.05" y1="46.50" x2="496.05" y2="65.08" stroke="#1a1a1a" stroke-width="1.0"/>
<line x1="493.65" y1="46.50" x2="498.45" y2="46.50" stroke="#1a1a1a" stroke-width="1.1"/>
<circle cx="494.25" cy="39.90" r="0.97" fill="#1e1e1e"/>
<polygon points="496.95,39.10 499.25,39.10 498.35,43.70 496.05,43.70" fill="#3c3c3c" opacity="0.8" filter="url(#bl0)"/>
<rect x="502.30" y="97.94" width="7.90" height="65.06" fill="#2a4a80" stroke="#1e3a6c" stroke-width="0.6"/>
<line x1="506.25" y1="85.40" x2="506.25" y2="97.64" stroke="#1a1a1a" stroke-width="1.0"/>
<line x1="503.85" y1="85.40" x2="508.65" y2="85.40" stroke="#1a1a1a" stroke-width="1.1"/>
<circle cx="506.25" cy="81.80" r="0.97" fill="#1e1e1e"/>
<line x1="481.00" y1="163.00" x2="481.00" y2="166.50" stroke="#1a1a1a" stroke-width="1.0"/>
<text transform="translate(346.50 174.60) rotate(-45)" font-size="8.1" text-anchor="end" fill="#1c1c1c" stroke="#1c1c1c" stroke-width="0.22">Survivin</text>
<text transform="translate(414.60 174.60) rotate(-45)" font-size="8.1" text-anchor="end" fill="#1c1c1c" stroke="#1c1c1c" stroke-width="0.22">C-MYC</text>
<text transform="translate(482.60 174.60) rotate(-45)" font-size="8.1" text-anchor="end" fill="#1c1c1c" stroke="#1c1c1c" stroke-width="0.22">HIF1A</text>
<text transform="translate(295.70 90.90) rotate(-90)" font-size="9.4" text-anchor="middle" fill="#1c1c1c" stroke="#1c1c1c" stroke-width="0.22" textLength="76.4" lengthAdjust="spacingAndGlyphs">mRNA fold change</text>
<rect x="357.80" y="207.30" width="12.40" height="7.30" fill="#386b50" stroke="#27523c" stroke-width="0.6"/>
<text transform="translate(373.80 213.20)" font-size="7.9" text-anchor="start" fill="#1c1c1c" stroke="#1c1c1c" stroke-width="0.22" textLength="62.6" lengthAdjust="spacingAndGlyphs">Ba/F3 Empty vector</text>
<rect x="357.80" y="226.00" width="12.40" height="7.30" fill="#e08c1a" stroke="#cc7d12" stroke-width="0.6"/>
<text transform="translate(373.80 231.90)" font-size="7.9" text-anchor="start" fill="#1c1c1c" stroke="#1c1c1c" stroke-width="0.22" textLength="52.199999999999996" lengthAdjust="spacingAndGlyphs">Ba/F3 STAT3-WT</text>
<rect x="357.80" y="244.70" width="12.40" height="7.30" fill="#66aa44" stroke="#529636" stroke-width="0.6"/>
<text transform="translate(373.80 250.60)" font-size="7.9" text-anchor="start" fill="#1c1c1c" stroke="#1c1c1c" stroke-width="0.22" textLength="64.5" lengthAdjust="spacingAndGlyphs">Ba/F3 STAT3-D427H</text>
<rect x="357.80" y="263.40" width="12.40" height="7.30" fill="#562462" stroke="#3e1249" stroke-width="0.6"/>
<text transform="translate(373.80 269.30)" font-size="7.9" text-anchor="start" fill="#1c1c1c" stroke="#1c1c1c" stroke-width="0.22" textLength="62.3" lengthAdjust="spacingAndGlyphs">Ba/F3 STAT3-E696K</text>
<rect x="357.80" y="282.10" width="12.40" height="7.30" fill="#a8002e" stroke="#8e0026" stroke-width="0.6"/>
<text transform="translate(373.80 288.00)" font-size="7.9" text-anchor="start" fill="#1c1c1c" stroke="#1c1c1c" stroke-width="0.22" textLength="62.6" lengthAdjust="spacingAndGlyphs">Ba/F3 STAT3-E616K</text>
<rect x="357.80" y="300.80" width="12.40" height="7.30" fill="#2a4a80" stroke="#1e3a6c" stroke-width="0.6"/>
<text transform="translate(373.80 306.70)" font-size="7.9" text-anchor="start" fill="#1c1c1c" stroke="#1c1c1c" stroke-width="0.22" textLength="63.1" lengthAdjust="spacingAndGlyphs">Ba/F3 STAT3-E616G</text>
<line x1="67.00" y1="355.80" x2="67.00" y2="459.60" stroke="#1a1a1a" stroke-width="1.3"/>
<line x1="66.40" y1="459.00" x2="217.00" y2="459.00" stroke="#1a1a1a" stroke-width="1.3"/>
<line x1="63.50" y1="459.00" x2="67.00" y2="459.00" stroke="#1a1a1a" stroke-width="1.1"/>
<text transform="translate(60.80 461.75) scale(0.88 1)" font-size="8.5" text-anchor="end" fill="#1c1c1c" stroke="#1c1c1c" stroke-width="0.22">0</text>
<line x1="63.50" y1="434.05" x2="67.00" y2="434.05" stroke="#1a1a1a" stroke-width="1.1"/>
<text transform="translate(60.80 436.80) scale(0.88 1)" font-size="8.5" text-anchor="end" fill="#1c1c1c" stroke="#1c1c1c" stroke-width="0.22">500</text>
<line x1="63.50" y1="409.10" x2="67.00" y2="409.10" stroke="#1a1a1a" stroke-width="1.1"/>
<text transform="translate(60.80 411.85) scale(0.88 1)" font-size="8.5" text-anchor="end" fill="#1c1c1c" stroke="#1c1c1c" stroke-width="0.22">1000</text>
<line x1="63.50" y1="384.15" x2="67.00" y2="384.15" stroke="#1a1a1a" stroke-width="1.1"/>
<text transform="translate(60.80 386.90) scale(0.88 1)" font-size="8.5" text-anchor="end" fill="#1c1c1c" stroke="#1c1c1c" stroke-width="0.22">1500</text>
<line x1="63.50" y1="359.20" x2="67.00" y2="359.20" stroke="#1a1a1a" stroke-width="1.1"/>
<text transform="translate(60.80 361.95) scale(0.88 1)" font-size="8.5" text-anchor="end" fill="#1c1c1c" stroke="#1c1c1c" stroke-width="0.22">2000</text>
<line x1="86.20" y1="459.00" x2="86.20" y2="462.20" stroke="#1a1a1a" stroke-width="1.0"/>
<text transform="translate(86.20 472.80) scale(0.88 1)" font-size="8.5" text-anchor="middle" fill="#1c1c1c" stroke="#1c1c1c" stroke-width="0.22">D0</text>
<line x1="123.70" y1="459.00" x2="123.70" y2="462.20" stroke="#1a1a1a" stroke-width="1.0"/>
<text transform="translate(123.70 472.80) scale(0.88 1)" font-size="8.5" text-anchor="middle" fill="#1c1c1c" stroke="#1c1c1c" stroke-width="0.22">D1</text>
<line x1="161.00" y1="459.00" x2="161.00" y2="462.20" stroke="#1a1a1a" stroke-width="1.0"/>
<text transform="translate(161.00 472.80) scale(0.88 1)" font-size="8.5" text-anchor="middle" fill="#1c1c1c" stroke="#1c1c1c" stroke-width="0.22">D2</text>
<line x1="199.00" y1="459.00" x2="199.00" y2="462.20" stroke="#1a1a1a" stroke-width="1.0"/>
<text transform="translate(199.00 472.80) scale(0.88 1)" font-size="8.5" text-anchor="middle" fill="#1c1c1c" stroke="#1c1c1c" stroke-width="0.22">D3</text>
<text transform="translate(141.60 485.80) scale(0.9 1)" font-size="9.6" text-anchor="middle" fill="#1c1c1c" stroke="#1c1c1c" stroke-width="0.22">Days</text>
<text transform="translate(141.60 345.70)" font-size="8.6" text-anchor="middle" fill="#1c1c1c" stroke="#1c1c1c" stroke-width="0.22" textLength="19.6" lengthAdjust="spacingAndGlyphs">- IL-3</text>
<text transform="translate(36.80 407.50) rotate(-90)" font-size="9.3" text-anchor="middle" fill="#1c1c1c" stroke="#1c1c1c" stroke-width="0.22" textLength="89.2" lengthAdjust="spacingAndGlyphs">Proliferation (% of D0)</text>
<line x1="270.80" y1="355.80" x2="270.80" y2="459.60" stroke="#1a1a1a" stroke-width="1.3"/>
<line x1="270.20" y1="459.00" x2="420.60" y2="459.00" stroke="#1a1a1a" stroke-width="1.3"/>
<line x1="267.30" y1="459.00" x2="270.80" y2="459.00" stroke="#1a1a1a" stroke-width="1.1"/>
<text transform="translate(264.60 461.75) scale(0.88 1)" font-size="8.5" text-anchor="end" fill="#1c1c1c" stroke="#1c1c1c" stroke-width="0.22">0</text>
<line x1="267.30" y1="434.05" x2="270.80" y2="434.05" stroke="#1a1a1a" stroke-width="1.1"/>
<text transform="translate(264.60 436.80) scale(0.88 1)" font-size="8.5" text-anchor="end" fill="#1c1c1c" stroke="#1c1c1c" stroke-width="0.22">1000</text>
<line x1="267.30" y1="409.10" x2="270.80" y2="409.10" stroke="#1a1a1a" stroke-width="1.1"/>
<text transform="translate(264.60 411.85) scale(0.88 1)" font-size="8.5" text-anchor="end" fill="#1c1c1c" stroke="#1c1c1c" stroke-width="0.22">2000</text>
<line x1="267.30" y1="384.15" x2="270.80" y2="384.15" stroke="#1a1a1a" stroke-width="1.1"/>
<text transform="translate(264.60 386.90) scale(0.88 1)" font-size="8.5" text-anchor="end" fill="#1c1c1c" stroke="#1c1c1c" stroke-width="0.22">3000</text>
<line x1="267.30" y1="359.20" x2="270.80" y2="359.20" stroke="#1a1a1a" stroke-width="1.1"/>
<text transform="translate(264.60 361.95) scale(0.88 1)" font-size="8.5" text-anchor="end" fill="#1c1c1c" stroke="#1c1c1c" stroke-width="0.22">4000</text>
<line x1="290.00" y1="459.00" x2="290.00" y2="462.20" stroke="#1a1a1a" stroke-width="1.0"/>
<text transform="translate(290.00 472.80) scale(0.88 1)" font-size="8.5" text-anchor="middle" fill="#1c1c1c" stroke="#1c1c1c" stroke-width="0.22">D0</text>
<line x1="327.70" y1="459.00" x2="327.70" y2="462.20" stroke="#1a1a1a" stroke-width="1.0"/>
<text transform="translate(327.70 472.80) scale(0.88 1)" font-size="8.5" text-anchor="middle" fill="#1c1c1c" stroke="#1c1c1c" stroke-width="0.22">D1</text>
<line x1="365.10" y1="459.00" x2="365.10" y2="462.20" stroke="#1a1a1a" stroke-width="1.0"/>
<text transform="translate(365.10 472.80) scale(0.88 1)" font-size="8.5" text-anchor="middle" fill="#1c1c1c" stroke="#1c1c1c" stroke-width="0.22">D2</text>
<line x1="402.80" y1="459.00" x2="402.80" y2="462.20" stroke="#1a1a1a" stroke-width="1.0"/>
<text transform="translate(402.80 472.80) scale(0.88 1)" font-size="8.5" text-anchor="middle" fill="#1c1c1c" stroke="#1c1c1c" stroke-width="0.22">D3</text>
<text transform="translate(345.90 485.80) scale(0.9 1)" font-size="9.6" text-anchor="middle" fill="#1c1c1c" stroke="#1c1c1c" stroke-width="0.22">Days</text>
<text transform="translate(345.90 345.70)" font-size="8.6" text-anchor="middle" fill="#1c1c1c" stroke="#1c1c1c" stroke-width="0.22" textLength="23.2" lengthAdjust="spacingAndGlyphs">+ IL-3</text>
<text transform="translate(240.60 407.50) rotate(-90)" font-size="9.3" text-anchor="middle" fill="#1c1c1c" stroke="#1c1c1c" stroke-width="0.22" textLength="89.2" lengthAdjust="spacingAndGlyphs">Proliferation (% of D0)</text>
<polyline points="86.2,454.5 123.7,457.2 161.0,457.6 199.0,458.2" fill="none" stroke="#e08c1a" stroke-width="1.7" stroke-linejoin="round"/>
<polyline points="86.2,454.5 123.7,457.2 161.0,457.6 199.0,458.2" fill="none" stroke="#66aa44" stroke-width="1.7" stroke-linejoin="round"/>
<polyline points="86.2,454.5 123.7,457.2 161.0,457.6 199.0,458.2" fill="none" stroke="#562462" stroke-width="1.7" stroke-linejoin="round"/>
<polyline points="86.2,454.5 123.7,457.2 161.0,457.6 199.0,458.2" fill="none" stroke="#2a4a80" stroke-width="1.7" stroke-linejoin="round"/>
<polyline points="86.2,454.5 123.7,457.2 161.0,457.6 199.0,458.2" fill="none" stroke="#386b50" stroke-width="1.7" stroke-linejoin="round"/>
<polyline points="86.2,454.3 123.7,448.8 161.0,432.3 199.0,400.0" fill="none" stroke="#a8002e" stroke-width="1.4" stroke-linejoin="round"/>
<circle cx="86.2" cy="454.3" r="1.7" fill="#a8002e"/>
<circle cx="123.7" cy="448.8" r="1.7" fill="#a8002e"/>
<circle cx="161.0" cy="432.3" r="1.7" fill="#a8002e"/>
<circle cx="199.0" cy="400.0" r="1.7" fill="#a8002e"/>
<line x1="160.80" y1="430.00" x2="160.80" y2="435.00" stroke="#a8002e" stroke-width="1.0"/>
<line x1="158.40" y1="430.00" x2="163.20" y2="430.00" stroke="#a8002e" stroke-width="1.0"/>
<line x1="158.40" y1="435.00" x2="163.20" y2="435.00" stroke="#a8002e" stroke-width="1.0"/>
<line x1="198.60" y1="388.50" x2="198.60" y2="411.00" stroke="#a8002e" stroke-width="1.0"/>
<line x1="196.10" y1="388.50" x2="201.10" y2="388.50" stroke="#a8002e" stroke-width="1.0"/>
<line x1="196.10" y1="411.00" x2="201.10" y2="411.00" stroke="#a8002e" stroke-width="1.0"/>
<circle cx="86.2" cy="454.5" r="2.4" fill="#386b50" stroke="#e08c1a" stroke-width="0.5"/>
<circle cx="123.7" cy="457.2" r="2.4" fill="#386b50" stroke="#e08c1a" stroke-width="0.5"/>
<circle cx="161.0" cy="457.6" r="2.4" fill="#386b50" stroke="#e08c1a" stroke-width="0.5"/>
<circle cx="199.0" cy="458.2" r="2.4" fill="#386b50" stroke="#e08c1a" stroke-width="0.5"/>
<polyline points="290.0,456.5 327.7,451.8 365.1,438.3 402.8,396.2" fill="none" stroke="#e08c1a" stroke-width="1.5" stroke-linejoin="round"/>
<polyline points="290.0,456.5 327.7,451.5 365.1,437.8 402.8,394.0" fill="none" stroke="#386b50" stroke-width="1.5" stroke-linejoin="round"/>
<polyline points="290.0,456.5 327.7,451.4 365.1,437.3 402.8,391.2" fill="none" stroke="#a8002e" stroke-width="1.5" stroke-linejoin="round"/>
<polyline points="290.0,456.5 327.7,451.5 365.1,437.0 402.8,388.4" fill="none" stroke="#2a4a80" stroke-width="1.5" stroke-linejoin="round"/>
<polyline points="290.0,456.5 327.7,451.3 365.1,436.5 402.8,387.0" fill="none" stroke="#562462" stroke-width="1.5" stroke-linejoin="round"/>
<polyline points="290.0,456.5 327.7,451.3 365.1,436.5 402.8,383.4" fill="none" stroke="#66aa44" stroke-width="1.5" stroke-linejoin="round"/>
<line x1="402.80" y1="375.70" x2="402.80" y2="390.00" stroke="#66aa44" stroke-width="1.0"/>
<line x1="400.30" y1="375.70" x2="405.30" y2="375.70" stroke="#66aa44" stroke-width="1.0"/>
<line x1="400.30" y1="390.00" x2="405.30" y2="390.00" stroke="#66aa44" stroke-width="1.0"/>
<line x1="402.80" y1="381.30" x2="402.80" y2="393.00" stroke="#562462" stroke-width="1.0"/>
<line x1="400.30" y1="381.30" x2="405.30" y2="381.30" stroke="#562462" stroke-width="1.0"/>
<line x1="400.30" y1="393.00" x2="405.30" y2="393.00" stroke="#562462" stroke-width="1.0"/>
<line x1="402.80" y1="388.00" x2="402.80" y2="397.00" stroke="#386b50" stroke-width="1.0"/>
<line x1="400.30" y1="388.00" x2="405.30" y2="388.00" stroke="#386b50" stroke-width="1.0"/>
<line x1="400.30" y1="397.00" x2="405.30" y2="397.00" stroke="#386b50" stroke-width="1.0"/>
<line x1="365.10" y1="432.00" x2="365.10" y2="438.00" stroke="#562462" stroke-width="1.0"/>
<line x1="362.80" y1="432.00" x2="367.40" y2="432.00" stroke="#562462" stroke-width="1.0"/>
<rect x="401.00" y="394.40" width="3.60" height="3.60" fill="#e08c1a"/>
<polygon points="402.8,389.2 404.6,391.2 402.8,393.2 401.0,391.2" fill="#a8002e"/>
<circle cx="402.8" cy="388.4" r="1.89" fill="#2a4a80"/>
<polygon points="402.8,389.3 405.1,385.4 400.6,385.4" fill="#562462"/>
<polygon points="402.8,381.2 405.1,385.0 400.6,385.0" fill="#66aa44"/>
<circle cx="290.0" cy="456.5" r="1.89" fill="#386b50"/>
<circle cx="327.7" cy="451.5" r="1.89" fill="#386b50"/>
<circle cx="365.1" cy="437.8" r="1.89" fill="#386b50"/>
<circle cx="402.8" cy="394.0" r="1.89" fill="#386b50"/>
<line x1="422.70" y1="368.40" x2="438.20" y2="368.40" stroke="#386b50" stroke-width="1.5"/>
<circle cx="430.8" cy="368.4" r="1.99" fill="#386b50"/>
<text transform="translate(441.80 370.80)" font-size="7.9" text-anchor="start" fill="#1c1c1c" stroke="#1c1c1c" stroke-width="0.22" textLength="42.699999999999996" lengthAdjust="spacingAndGlyphs">Empty vector</text>
<line x1="422.70" y1="383.18" x2="438.20" y2="383.18" stroke="#e08c1a" stroke-width="1.5"/>
<rect x="428.90" y="381.28" width="3.80" height="3.80" fill="#e08c1a"/>
<text transform="translate(441.80 385.58)" font-size="7.9" text-anchor="start" fill="#1c1c1c" stroke="#1c1c1c" stroke-width="0.22" textLength="32.9" lengthAdjust="spacingAndGlyphs">STAT3-WT</text>
<line x1="422.70" y1="397.96" x2="438.20" y2="397.96" stroke="#66aa44" stroke-width="1.5"/>
<polygon points="430.8,395.6 433.2,399.7 428.4,399.7" fill="#66aa44"/>
<text transform="translate(441.80 400.36)" font-size="7.9" text-anchor="start" fill="#1c1c1c" stroke="#1c1c1c" stroke-width="0.22" textLength="44.8" lengthAdjust="spacingAndGlyphs">STAT3-D427H</text>
<line x1="422.70" y1="412.74" x2="438.20" y2="412.74" stroke="#562462" stroke-width="1.5"/>
<polygon points="430.8,415.1 433.2,411.0 428.4,411.0" fill="#562462"/>
<text transform="translate(441.80 415.14)" font-size="7.9" text-anchor="start" fill="#1c1c1c" stroke="#1c1c1c" stroke-width="0.22" textLength="42.5" lengthAdjust="spacingAndGlyphs">STAT3-E696K</text>
<line x1="422.70" y1="427.52" x2="438.20" y2="427.52" stroke="#a8002e" stroke-width="1.5"/>
<polygon points="430.8,425.4 432.7,427.5 430.8,429.6 428.9,427.5" fill="#a8002e"/>
<text transform="translate(441.80 429.92)" font-size="7.9" text-anchor="start" fill="#1c1c1c" stroke="#1c1c1c" stroke-width="0.22" textLength="42.5" lengthAdjust="spacingAndGlyphs">STAT3-E616K</text>
<line x1="422.70" y1="442.30" x2="438.20" y2="442.30" stroke="#2a4a80" stroke-width="1.5"/>
<circle cx="430.8" cy="442.3" r="1.99" fill="#2a4a80"/>
<text transform="translate(441.80 444.70)" font-size="7.9" text-anchor="start" fill="#1c1c1c" stroke="#1c1c1c" stroke-width="0.22" textLength="43.5" lengthAdjust="spacingAndGlyphs">STAT3-E616G</text>
<line x1="67.00" y1="525.40" x2="67.00" y2="699.20" stroke="#1a1a1a" stroke-width="1.3"/>
<line x1="66.40" y1="654.40" x2="270.60" y2="654.40" stroke="#1a1a1a" stroke-width="1.3"/>
<line x1="63.50" y1="528.70" x2="67.00" y2="528.70" stroke="#1a1a1a" stroke-width="1.1"/>
<text transform="translate(60.80 531.45) scale(0.88 1)" font-size="8.5" text-anchor="end" fill="#1c1c1c" stroke="#1c1c1c" stroke-width="0.22">150</text>
<line x1="63.50" y1="570.60" x2="67.00" y2="570.60" stroke="#1a1a1a" stroke-width="1.1"/>
<text transform="translate(60.80 573.35) scale(0.88 1)" font-size="8.5" text-anchor="end" fill="#1c1c1c" stroke="#1c1c1c" stroke-width="0.22">100</text>
<line x1="63.50" y1="612.50" x2="67.00" y2="612.50" stroke="#1a1a1a" stroke-width="1.1"/>
<text transform="translate(60.80 615.25) scale(0.88 1)" font-size="8.5" text-anchor="end" fill="#1c1c1c" stroke="#1c1c1c" stroke-width="0.22">50</text>
<line x1="63.50" y1="654.40" x2="67.00" y2="654.40" stroke="#1a1a1a" stroke-width="1.1"/>
<text transform="translate(60.80 657.15) scale(0.88 1)" font-size="8.5" text-anchor="end" fill="#1c1c1c" stroke="#1c1c1c" stroke-width="0.22">0</text>
<line x1="63.50" y1="696.30" x2="67.00" y2="696.30" stroke="#1a1a1a" stroke-width="1.1"/>
<text transform="translate(60.80 699.05) scale(0.88 1)" font-size="8.5" text-anchor="end" fill="#1c1c1c" stroke="#1c1c1c" stroke-width="0.22">-50</text>
<line x1="107.90" y1="654.40" x2="107.90" y2="657.80" stroke="#1a1a1a" stroke-width="1.0"/>
<text transform="translate(107.50 668.60) scale(0.88 1)" font-size="8.5" text-anchor="middle" fill="#1c1c1c" stroke="#1c1c1c" stroke-width="0.22">-7.5</text>
<line x1="147.50" y1="654.40" x2="147.50" y2="657.80" stroke="#1a1a1a" stroke-width="1.0"/>
<text transform="translate(147.10 668.60) scale(0.88 1)" font-size="8.5" text-anchor="middle" fill="#1c1c1c" stroke="#1c1c1c" stroke-width="0.22">-7.0</text>
<line x1="187.10" y1="654.40" x2="187.10" y2="657.80" stroke="#1a1a1a" stroke-width="1.0"/>
<text transform="translate(186.70 668.60) scale(0.88 1)" font-size="8.5" text-anchor="middle" fill="#1c1c1c" stroke="#1c1c1c" stroke-width="0.22">-6.5</text>
<line x1="226.70" y1="654.40" x2="226.70" y2="657.80" stroke="#1a1a1a" stroke-width="1.0"/>
<text transform="translate(226.30 668.60) scale(0.88 1)" font-size="8.5" text-anchor="middle" fill="#1c1c1c" stroke="#1c1c1c" stroke-width="0.22">-6.0</text>
<line x1="266.30" y1="654.40" x2="266.30" y2="657.80" stroke="#1a1a1a" stroke-width="1.0"/>
<text transform="translate(265.90 668.60) scale(0.88 1)" font-size="8.5" text-anchor="middle" fill="#1c1c1c" stroke="#1c1c1c" stroke-width="0.22">-5.5</text>
<text transform="translate(168.75 681.90)" font-size="9.7" text-anchor="middle" fill="#1c1c1c" stroke="#1c1c1c" stroke-width="0.22" textLength="61.5" lengthAdjust="spacingAndGlyphs">log[agonist], M</text>
<text transform="translate(41.00 612.50) rotate(-90)" font-size="9.0" text-anchor="middle" fill="#1c1c1c" stroke="#1c1c1c" stroke-width="0.22" textLength="122.3" lengthAdjust="spacingAndGlyphs">Cell proliferation (% of DMSO)</text>
<polyline points="68.3,570.6 69.9,570.6 71.5,570.6 73.1,570.6 74.6,570.6 76.2,570.6 77.8,570.6 79.4,570.6 81.0,570.6 82.6,570.6 84.1,570.7 85.7,570.7 87.3,570.7 88.9,570.7 90.5,570.7 92.1,570.7 93.6,570.7 95.2,570.7 96.8,570.7 98.4,570.7 100.0,570.8 101.6,570.8 103.1,570.8 104.7,570.8 106.3,570.8 107.9,570.9 109.5,570.9 111.1,570.9 112.7,571.0 114.2,571.0 115.8,571.1 117.4,571.1 119.0,571.2 120.6,571.2 122.2,571.3 123.7,571.4 125.3,571.5 126.9,571.6 128.5,571.7 130.1,571.8 131.7,572.0 133.2,572.1 134.8,572.3 136.4,572.5 138.0,572.7 139.6,572.9 141.2,573.2 142.7,573.5 144.3,573.8 145.9,574.1 147.5,574.5 149.1,575.0 150.7,575.4 152.3,576.0 153.8,576.5 155.4,577.2 157.0,577.8 158.6,578.6 160.2,579.4 161.8,580.3 163.3,581.3 164.9,582.4 166.5,583.5 168.1,584.8 169.7,586.1 171.3,587.5 172.8,589.0 174.4,590.6 176.0,592.4 177.6,594.2 179.2,596.1 180.8,598.0 182.3,600.1 183.9,602.2 185.5,604.4 187.1,606.6 188.7,608.9 190.3,611.1 191.9,613.4 193.4,615.7 195.0,618.0 196.6,620.2 198.2,622.4 199.8,624.5 201.4,626.6 202.9,628.6 204.5,630.5 206.1,632.3 207.7,634.0 209.3,635.7 210.9,637.2 212.4,638.6 214.0,640.0 215.6,641.2 217.2,642.4 218.8,643.5 220.4,644.5 221.9,645.4 223.5,646.2 225.1,647.0 226.7,647.7" fill="none" stroke="#e08c1a" stroke-width="1.5" stroke-linejoin="round"/>
<polyline points="68.3,570.7 69.9,570.7 71.5,570.7 73.1,570.7 74.6,570.7 76.2,570.7 77.8,570.7 79.4,570.7 81.0,570.7 82.6,570.7 84.1,570.8 85.7,570.8 87.3,570.8 88.9,570.8 90.5,570.8 92.1,570.9 93.6,570.9 95.2,570.9 96.8,571.0 98.4,571.0 100.0,571.1 101.6,571.1 103.1,571.2 104.7,571.2 106.3,571.3 107.9,571.4 109.5,571.5 111.1,571.6 112.7,571.7 114.2,571.8 115.8,572.0 117.4,572.1 119.0,572.3 120.6,572.5 122.2,572.7 123.7,572.9 125.3,573.2 126.9,573.5 128.5,573.8 130.1,574.2 131.7,574.6 133.2,575.0 134.8,575.5 136.4,576.0 138.0,576.6 139.6,577.2 141.2,577.9 142.7,578.6 144.3,579.5 145.9,580.4 147.5,581.3 149.1,582.4 150.7,583.5 152.3,584.8 153.8,586.1 155.4,587.5 157.0,589.0 158.6,590.6 160.2,592.3 161.8,594.1 163.3,596.0 164.9,598.0 166.5,600.0 168.1,602.1 169.7,604.3 171.3,606.5 172.8,608.8 174.4,611.0 176.0,613.3 177.6,615.6 179.2,617.8 180.8,620.0 182.3,622.2 183.9,624.3 185.5,626.4 187.1,628.4 188.7,630.3 190.3,632.1 191.9,633.9 193.4,635.5 195.0,637.0 196.6,638.5 198.2,639.8 199.8,641.1 201.4,642.3 202.9,643.4 204.5,644.4 206.1,645.3 207.7,646.1 209.3,646.9 210.9,647.6 212.4,648.3 214.0,648.9 215.6,649.4 217.2,649.9 218.8,650.3 220.4,650.7 221.9,651.1 223.5,651.4 225.1,651.7 226.7,652.0" fill="none" stroke="#386b50" stroke-width="1.5" stroke-linejoin="round"/>
<polyline points="68.3,570.6 69.9,570.6 71.5,570.6 73.1,570.6 74.6,570.6 76.2,570.7 77.8,570.7 79.4,570.7 81.0,570.7 82.6,570.7 84.1,570.7 85.7,570.7 87.3,570.7 88.9,570.8 90.5,570.8 92.1,570.8 93.6,570.9 95.2,570.9 96.8,570.9 98.4,571.0 100.0,571.0 101.6,571.1 103.1,571.2 104.7,571.3 106.3,571.4 107.9,571.5 109.5,571.6 111.1,571.7 112.7,571.9 114.2,572.1 115.8,572.3 117.4,572.6 119.0,572.8 120.6,573.2 122.2,573.5 123.7,574.0 125.3,574.4 126.9,575.0 128.5,575.6 130.1,576.3 131.7,577.0 133.2,577.9 134.8,578.9 136.4,580.0 138.0,581.2 139.6,582.5 141.2,584.0 142.7,585.6 144.3,587.4 145.9,589.4 147.5,591.4 149.1,593.7 150.7,596.1 152.3,598.6 153.8,601.2 155.4,603.9 157.0,606.7 158.6,609.6 160.2,612.5 161.8,615.4 163.3,618.3 164.9,621.1 166.5,623.8 168.1,626.4 169.7,628.9 171.3,631.3 172.8,633.6 174.4,635.6 176.0,637.6 177.6,639.4 179.2,641.0 180.8,642.5 182.3,643.8 183.9,645.0 185.5,646.1 187.1,647.1 188.7,648.0 190.3,648.7 191.9,649.4 193.4,650.0 195.0,650.6 196.6,651.0 198.2,651.5 199.8,651.8 201.4,652.2 202.9,652.4 204.5,652.7 206.1,652.9 207.7,653.1 209.3,653.3 210.9,653.4 212.4,653.5 214.0,653.6 215.6,653.7 217.2,653.8 218.8,653.9 220.4,654.0 221.9,654.0 223.5,654.1 225.1,654.1 226.7,654.1" fill="none" stroke="#562462" stroke-width="1.5" stroke-linejoin="round"/>
<polyline points="68.3,573.7 69.9,573.9 71.5,574.2 73.1,574.4 74.6,574.7 76.2,575.0 77.8,575.4 79.4,575.7 81.0,576.1 82.6,576.5 84.1,576.9 85.7,577.4 87.3,577.9 88.9,578.4 90.5,578.9 92.1,579.5 93.6,580.1 95.2,580.8 96.8,581.5 98.4,582.2 100.0,583.0 101.6,583.9 103.1,584.7 104.7,585.6 106.3,586.6 107.9,587.6 109.5,588.7 111.1,589.8 112.7,590.9 114.2,592.1 115.8,593.3 117.4,594.6 119.0,595.9 120.6,597.3 122.2,598.7 123.7,600.1 125.3,601.6 126.9,603.1 128.5,604.6 130.1,606.2 131.7,607.7 133.2,609.3 134.8,610.9 136.4,612.5 138.0,614.1 139.6,615.7 141.2,617.3 142.7,618.8 144.3,620.4 145.9,621.9 147.5,623.4 149.1,624.9 150.7,626.3 152.3,627.7 153.8,629.1 155.4,630.4 157.0,631.7 158.6,632.9 160.2,634.1 161.8,635.2 163.3,636.3 164.9,637.4 166.5,638.4 168.1,639.4 169.7,640.3 171.3,641.1 172.8,642.0 174.4,642.8 176.0,643.5 177.6,644.2 179.2,644.9 180.8,645.5 182.3,646.1 183.9,646.6 185.5,647.1 187.1,647.6 188.7,648.1 190.3,648.5 191.9,648.9 193.4,649.3 195.0,649.6 196.6,650.0 198.2,650.3 199.8,650.6 201.4,650.8 202.9,651.1 204.5,651.3 206.1,651.5 207.7,651.7 209.3,651.9 210.9,652.1 212.4,652.3 214.0,652.4 215.6,652.6 217.2,652.7 218.8,652.8 220.4,652.9 221.9,653.0 223.5,653.1 225.1,653.2 226.7,653.3" fill="none" stroke="#a8002e" stroke-width="1.5" stroke-linejoin="round"/>
<polyline points="68.3,572.0 69.9,572.2 71.5,572.3 73.1,572.5 74.6,572.7 76.2,572.9 77.8,573.1 79.4,573.4 81.0,573.7 82.6,574.0 84.1,574.3 85.7,574.7 87.3,575.1 88.9,575.5 90.5,576.0 92.1,576.5 93.6,577.1 95.2,577.7 96.8,578.4 98.4,579.1 100.0,579.9 101.6,580.8 103.1,581.7 104.7,582.7 106.3,583.7 107.9,584.9 109.5,586.1 111.1,587.4 112.7,588.7 114.2,590.2 115.8,591.7 117.4,593.3 119.0,595.0 120.6,596.7 122.2,598.5 123.7,600.4 125.3,602.3 126.9,604.3 128.5,606.3 130.1,608.4 131.7,610.4 133.2,612.5 134.8,614.6 136.4,616.6 138.0,618.7 139.6,620.7 141.2,622.7 142.7,624.6 144.3,626.5 145.9,628.3 147.5,630.0 149.1,631.7 150.7,633.3 152.3,634.8 153.8,636.3 155.4,637.6 157.0,638.9 158.6,640.1 160.2,641.3 161.8,642.3 163.3,643.3 164.9,644.2 166.5,645.1 168.1,645.9 169.7,646.6 171.3,647.3 172.8,647.9 174.4,648.5 176.0,649.0 177.6,649.5 179.2,649.9 180.8,650.3 182.3,650.7 183.9,651.0 185.5,651.3 187.1,651.6 188.7,651.9 190.3,652.1 191.9,652.3 193.4,652.5 195.0,652.7 196.6,652.8 198.2,653.0 199.8,653.1 201.4,653.2 202.9,653.3 204.5,653.4 206.1,653.5 207.7,653.6 209.3,653.7 210.9,653.8 212.4,653.8 214.0,653.9 215.6,653.9 217.2,654.0 218.8,654.0 220.4,654.0 221.9,654.1 223.5,654.1 225.1,654.1 226.7,654.2" fill="none" stroke="#2a4a80" stroke-width="1.5" stroke-linejoin="round"/>
<polyline points="68.3,574.5 69.9,574.8 71.5,575.2 73.1,575.5 74.6,576.0 76.2,576.4 77.8,576.9 79.4,577.4 81.0,577.9 82.6,578.5 84.1,579.2 85.7,579.8 87.3,580.6 88.9,581.3 90.5,582.2 92.1,583.0 93.6,584.0 95.2,585.0 96.8,586.0 98.4,587.1 100.0,588.3 101.6,589.5 103.1,590.8 104.7,592.1 106.3,593.5 107.9,594.9 109.5,596.4 111.1,598.0 112.7,599.6 114.2,601.2 115.8,602.9 117.4,604.6 119.0,606.3 120.6,608.1 122.2,609.8 123.7,611.6 125.3,613.4 126.9,615.2 128.5,616.9 130.1,618.7 131.7,620.4 133.2,622.1 134.8,623.8 136.4,625.4 138.0,627.0 139.6,628.6 141.2,630.1 142.7,631.5 144.3,632.9 145.9,634.2 147.5,635.5 149.1,636.7 150.7,637.9 152.3,639.0 153.8,640.0 155.4,641.0 157.0,642.0 158.6,642.8 160.2,643.7 161.8,644.4 163.3,645.2 164.9,645.8 166.5,646.5 168.1,647.1 169.7,647.6 171.3,648.1 172.8,648.6 174.4,649.0 176.0,649.5 177.6,649.8 179.2,650.2 180.8,650.5 182.3,650.8 183.9,651.1 185.5,651.4 187.1,651.6 188.7,651.8 190.3,652.0 191.9,652.2 193.4,652.4 195.0,652.6 196.6,652.7 198.2,652.8 199.8,653.0 201.4,653.1 202.9,653.2 204.5,653.3 206.1,653.4 207.7,653.5 209.3,653.5 210.9,653.6 212.4,653.7 214.0,653.7 215.6,653.8 217.2,653.8 218.8,653.9 220.4,653.9 221.9,654.0 223.5,654.0 225.1,654.0 226.7,654.1" fill="none" stroke="#66aa44" stroke-width="1.5" stroke-linejoin="round"/>
<line x1="154.63" y1="586.52" x2="154.63" y2="594.06" stroke="#386b50" stroke-width="1.0"/>
<line x1="152.13" y1="586.52" x2="157.13" y2="586.52" stroke="#386b50" stroke-width="1.0"/>
<line x1="152.13" y1="594.06" x2="157.13" y2="594.06" stroke="#386b50" stroke-width="1.0"/>
<line x1="154.63" y1="594.06" x2="154.63" y2="615.18" stroke="#562462" stroke-width="1.0"/>
<line x1="152.13" y1="594.06" x2="157.13" y2="594.06" stroke="#562462" stroke-width="1.0"/>
<line x1="152.13" y1="615.18" x2="157.13" y2="615.18" stroke="#562462" stroke-width="1.0"/>
<line x1="154.63" y1="621.22" x2="154.63" y2="637.64" stroke="#a8002e" stroke-width="1.0"/>
<line x1="152.13" y1="621.22" x2="157.13" y2="621.22" stroke="#a8002e" stroke-width="1.0"/>
<line x1="152.13" y1="637.64" x2="157.13" y2="637.64" stroke="#a8002e" stroke-width="1.0"/>
<line x1="154.63" y1="638.81" x2="154.63" y2="648.28" stroke="#66aa44" stroke-width="1.0"/>
<line x1="152.13" y1="638.81" x2="157.13" y2="638.81" stroke="#66aa44" stroke-width="1.0"/>
<line x1="152.13" y1="648.28" x2="157.13" y2="648.28" stroke="#66aa44" stroke-width="1.0"/>
<line x1="179.18" y1="614.60" x2="179.18" y2="621.63" stroke="#386b50" stroke-width="1.0"/>
<line x1="176.68" y1="614.60" x2="181.68" y2="614.60" stroke="#386b50" stroke-width="1.0"/>
<line x1="176.68" y1="621.63" x2="181.68" y2="621.63" stroke="#386b50" stroke-width="1.0"/>
<line x1="179.18" y1="637.64" x2="179.18" y2="643.92" stroke="#562462" stroke-width="1.0"/>
<line x1="176.68" y1="637.64" x2="181.68" y2="637.64" stroke="#562462" stroke-width="1.0"/>
<line x1="176.68" y1="643.92" x2="181.68" y2="643.92" stroke="#562462" stroke-width="1.0"/>
<line x1="179.18" y1="639.82" x2="179.18" y2="646.94" stroke="#66aa44" stroke-width="1.0"/>
<line x1="176.68" y1="639.82" x2="181.68" y2="639.82" stroke="#66aa44" stroke-width="1.0"/>
<line x1="176.68" y1="646.94" x2="181.68" y2="646.94" stroke="#66aa44" stroke-width="1.0"/>
<rect x="152.33" y="581.71" width="4.60" height="4.60" fill="#e08c1a"/>
<rect x="176.88" y="593.78" width="4.60" height="4.60" fill="#e08c1a"/>
<rect x="200.64" y="623.61" width="4.60" height="4.60" fill="#e08c1a"/>
<rect x="224.40" y="650.42" width="4.60" height="4.60" fill="#e08c1a"/>
<circle cx="154.6" cy="590.1" r="2.42" fill="#386b50"/>
<circle cx="179.2" cy="617.8" r="2.42" fill="#386b50"/>
<circle cx="202.9" cy="643.8" r="2.42" fill="#386b50"/>
<circle cx="226.7" cy="653.6" r="2.42" fill="#386b50"/>
<polygon points="154.6,606.2 157.5,601.2 151.8,601.2" fill="#562462"/>
<polygon points="179.2,643.6 182.1,638.7 176.3,638.7" fill="#562462"/>
<polygon points="202.9,654.8 205.8,649.8 200.1,649.8" fill="#562462"/>
<polygon points="226.7,656.9 229.6,651.9 223.8,651.9" fill="#562462"/>
<polygon points="154.6,627.1 156.9,629.7 154.6,632.2 152.3,629.7" fill="#a8002e"/>
<polygon points="179.2,644.3 181.5,646.9 179.2,649.4 176.9,646.9" fill="#a8002e"/>
<polygon points="202.9,650.2 205.2,652.7 202.9,655.3 200.6,652.7" fill="#a8002e"/>
<polygon points="226.7,651.5 229.0,654.0 226.7,656.5 224.4,654.0" fill="#a8002e"/>
<circle cx="154.6" cy="636.5" r="2.42" fill="#2a4a80"/>
<circle cx="179.2" cy="649.6" r="2.42" fill="#2a4a80"/>
<circle cx="202.9" cy="653.6" r="2.42" fill="#2a4a80"/>
<circle cx="226.7" cy="654.4" r="2.42" fill="#2a4a80"/>
<polygon points="154.6,641.0 157.5,646.0 151.8,646.0" fill="#66aa44"/>
<polygon points="179.2,639.8 182.1,644.7 176.3,644.7" fill="#66aa44"/>
<polygon points="202.9,650.7 205.8,655.6 200.1,655.6" fill="#66aa44"/>
<polygon points="226.7,651.5 229.6,656.5 223.8,656.5" fill="#66aa44"/>
<line x1="67.00" y1="552.16" x2="67.00" y2="588.20" stroke="#562462" stroke-width="1.0"/>
<line x1="64.50" y1="552.16" x2="69.50" y2="552.16" stroke="#562462" stroke-width="1.0"/>
<line x1="64.50" y1="588.20" x2="69.50" y2="588.20" stroke="#562462" stroke-width="1.0"/>
<line x1="67.00" y1="565.57" x2="67.00" y2="576.47" stroke="#2a4a80" stroke-width="1.0"/>
<line x1="64.50" y1="565.57" x2="69.50" y2="565.57" stroke="#2a4a80" stroke-width="1.0"/>
<line x1="64.50" y1="576.47" x2="69.50" y2="576.47" stroke="#2a4a80" stroke-width="1.0"/>
<line x1="67.00" y1="568.09" x2="67.00" y2="573.11" stroke="#e08c1a" stroke-width="1.0"/>
<line x1="64.50" y1="568.09" x2="69.50" y2="568.09" stroke="#e08c1a" stroke-width="1.0"/>
<line x1="64.50" y1="573.11" x2="69.50" y2="573.11" stroke="#e08c1a" stroke-width="1.0"/>
<rect x="64.60" y="568.20" width="4.80" height="4.80" fill="#e08c1a"/>
<polygon points="67.0,573.6 70.0,568.4 64.0,568.4" fill="#562462"/>
<circle cx="67.0" cy="570.6" r="2.52" fill="#2a4a80"/>
<circle cx="67.0" cy="570.6" r="2.52" fill="#386b50"/>
<line x1="216.40" y1="528.20" x2="232.00" y2="528.20" stroke="#386b50" stroke-width="1.5"/>
<circle cx="224.2" cy="528.2" r="2.10" fill="#386b50"/>
<text transform="translate(234.90 530.70)" font-size="7.5" text-anchor="start" fill="#1c1c1c" stroke="#1c1c1c" stroke-width="0.22" textLength="110.60000000000001" lengthAdjust="spacingAndGlyphs">Ba/F3 Empty vector (IC50: 217 nM)</text>
<line x1="216.40" y1="546.22" x2="232.00" y2="546.22" stroke="#e08c1a" stroke-width="1.5"/>
<rect x="222.20" y="544.22" width="4.00" height="4.00" fill="#e08c1a"/>
<text transform="translate(236.00 548.72)" font-size="7.5" text-anchor="start" fill="#1c1c1c" stroke="#1c1c1c" stroke-width="0.22" textLength="99.9" lengthAdjust="spacingAndGlyphs">Ba/F3 STAT3-WT (IC50: 344 nM)</text>
<line x1="216.40" y1="564.24" x2="232.00" y2="564.24" stroke="#66aa44" stroke-width="1.5"/>
<polygon points="224.2,561.7 226.7,566.0 221.7,566.0" fill="#66aa44"/>
<text transform="translate(236.00 566.74)" font-size="7.5" text-anchor="start" fill="#1c1c1c" stroke="#1c1c1c" stroke-width="0.22" textLength="107.5" lengthAdjust="spacingAndGlyphs">Ba/F3 STAT3-D427H (IC50: 55 nM)</text>
<line x1="216.40" y1="582.26" x2="232.00" y2="582.26" stroke="#562462" stroke-width="1.5"/>
<polygon points="224.2,584.8 226.7,580.5 221.7,580.5" fill="#562462"/>
<text transform="translate(236.00 584.76)" font-size="7.5" text-anchor="start" fill="#1c1c1c" stroke="#1c1c1c" stroke-width="0.22" textLength="109.5" lengthAdjust="spacingAndGlyphs">Ba/F3 STAT3-E696K (IC50: 144 nM)</text>
<line x1="216.40" y1="600.28" x2="232.00" y2="600.28" stroke="#a8002e" stroke-width="1.5"/>
<polygon points="224.2,598.1 226.2,600.3 224.2,602.5 222.2,600.3" fill="#a8002e"/>
<text transform="translate(236.00 602.78)" font-size="7.5" text-anchor="start" fill="#1c1c1c" stroke="#1c1c1c" stroke-width="0.22" textLength="105.60000000000001" lengthAdjust="spacingAndGlyphs">Ba/F3 STAT3-E616K (IC50: 79 nM)</text>
<line x1="216.40" y1="618.30" x2="232.00" y2="618.30" stroke="#2a4a80" stroke-width="1.5"/>
<circle cx="224.2" cy="618.3" r="2.10" fill="#2a4a80"/>
<text transform="translate(235.40 620.80)" font-size="7.5" text-anchor="start" fill="#1c1c1c" stroke="#1c1c1c" stroke-width="0.22" textLength="108.0" lengthAdjust="spacingAndGlyphs">Ba/F3 STAT3-E616G  (IC50: 72 nM)</text>
<rect x="0" y="0" width="520" height="1.4" fill="#3a3a3a"/>
<rect x="0" y="0" width="1.5" height="707" fill="#222"/>
<rect x="518.6" y="0" width="1.4" height="707" fill="#000"/>
<rect x="0" y="705.6" width="520" height="1.4" fill="#000"/></svg></div></body></html>
